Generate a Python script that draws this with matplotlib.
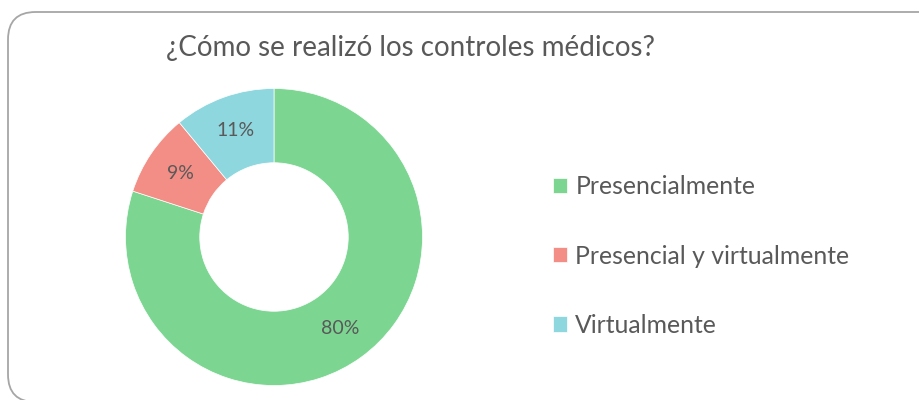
import matplotlib
matplotlib.use("Agg")
import matplotlib.pyplot as plt
from matplotlib.patches import FancyBboxPatch

plt.rcParams['font.family'] = ['Lato', 'DejaVu Sans']

# data
categories = ['Presencialmente', 'Presencial y virtualmente', 'Virtualmente']
values = [80, 9, 11]
colors = ['#7CD692', '#F28E86', '#8FD7DE']
title = '¿Cómo se realizó los controles médicos?'
text_color = '#595959'

W, H = 919, 400
fig = plt.figure(figsize=(W / 100, H / 100), dpi=100)

# rounded frame around the chart (runs off the right and bottom edges)
frame = FancyBboxPatch((8 / W, -2 / H), 940 / W, 390 / H,
                       boxstyle='round,pad=0,rounding_size=0.03',
                       transform=fig.transFigure, fill=False,
                       edgecolor='#A6A6A6', linewidth=1.3, mutation_aspect=W / H)
fig.patches.append(frame)

# donut
cx, cy, r = 274, 237, 150
ax = fig.add_axes([(cx - r) / W, (H - cy - r) / H, 2 * r / W, 2 * r / H])
wedges, _, autotexts = ax.pie(values, colors=colors, startangle=90, counterclock=False,
                              radius=0.99, autopct='%1.0f%%', pctdistance=0.76,
                              wedgeprops=dict(width=0.495, edgecolor='white', linewidth=0.5),
                              textprops=dict(color=text_color, fontsize=14))
ax.set_xlim(-1, 1)
ax.set_ylim(-1, 1)
ax.set_aspect('equal')
ax.axis('off')

fig.text(410 / W, 1 - 48 / H, title, ha='center', va='center',
         fontsize=20, color=text_color)

leg = fig.legend(wedges, categories, loc='center left',
                 bbox_to_anchor=(531 / W, 1 - 256 / H), frameon=False,
                 fontsize=17.8, labelcolor=text_color, handlelength=0.57,
                 handleheight=0.57, handletextpad=0.32, labelspacing=1.87)

fig.savefig('out.png', dpi=100)
